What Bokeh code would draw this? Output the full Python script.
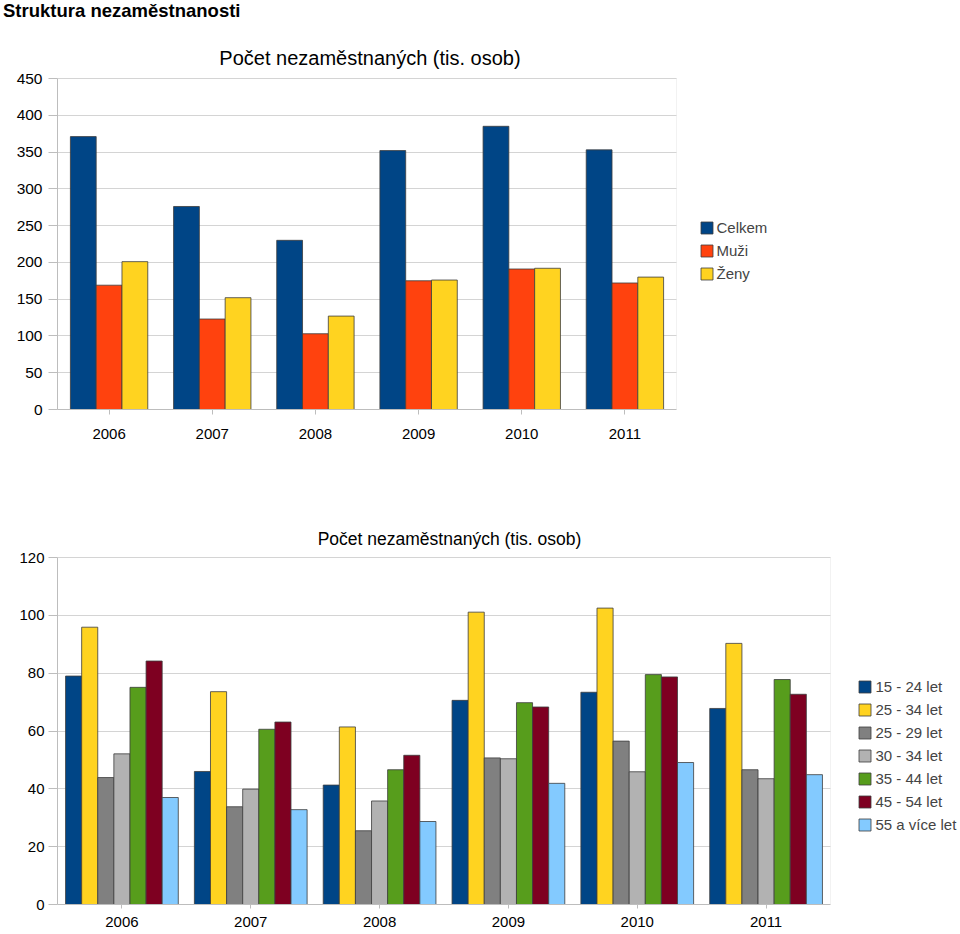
from bokeh.plotting import figure
from bokeh.layouts import column
from bokeh.models import (Range1d, FixedTicker, Div, Label, BoxAnnotation)
from bokeh.embed import file_html
from bokeh.resources import INLINE

# ---------------- data ----------------
years = ["2006", "2007", "2008", "2009", "2010", "2011"]

celkem = [371, 276, 230, 352, 385, 353]
muzi = [169, 123, 103, 175, 191, 172]
zeny = [201, 152, 127, 176, 192, 180]
top_series = ["Celkem", "Muži", "Ženy"]
top_colors = ["#004586", "#ff420e", "#ffd320"]
top_ticks = [0, 50, 100, 150, 200, 250, 300, 350, 400, 450]

age_15_24 = [79.0, 46.0, 41.3, 70.6, 73.4, 67.8]
age_25_34 = [95.9, 73.6, 61.4, 101.1, 102.5, 90.3]
age_25_29 = [43.9, 33.8, 25.5, 50.7, 56.5, 46.6]
age_30_34 = [52.1, 39.9, 35.8, 50.4, 45.9, 43.5]
age_35_44 = [75.1, 60.6, 46.6, 69.8, 79.5, 77.8]
age_45_54 = [84.2, 63.1, 51.6, 68.3, 78.7, 72.7]
age_55_up = [37.0, 32.8, 28.7, 41.9, 49.1, 44.9]
bottom_series = ["15 - 24 let", "25 - 34 let", "25 - 29 let", "30 - 34 let",
                 "35 - 44 let", "45 - 54 let", "55 a více let"]
bottom_colors = ["#004586", "#ffd320", "#808080", "#b2b2b2",
                 "#579d1c", "#7e0021", "#83caff"]
bottom_ticks = [0, 20, 40, 60, 80, 100, 120]

heading = "Struktura nezaměstnanosti"
chart_title = "Počet nezaměstnaných (tis. osob)"

FONT = "Liberation Sans"
GRID = "#d4d4d4"
AXIS = "#bdbdbd"
OUTLINE = "#3c3c3c"
WIDTH = 960
LEFT = 57


def make_chart(height, frame_top, plot_top, plot_right, plot_bottom, ticks):
    """plot area = LEFT..plot_right x plot_top..plot_bottom (figure pixels)"""
    ymax = ticks[-1]
    ncat = len(years)
    frame_w = WIDTH - LEFT
    plot_w = plot_right - LEFT
    frame_h = plot_bottom - frame_top
    plot_h = plot_bottom - plot_top
    x_end = ncat * frame_w / plot_w
    y_end = ymax * frame_h / plot_h
    p = figure(width=WIDTH, height=height, x_range=Range1d(0, x_end),
               y_range=Range1d(0, y_end), output_backend="svg",
               toolbar_location=None, tools="",
               min_border_left=LEFT, min_border_right=0,
               min_border_top=frame_top, min_border_bottom=height - plot_bottom)
    p.outline_line_color = None
    p.xgrid.grid_line_color = None
    p.ygrid.grid_line_color = GRID
    p.yaxis.ticker = FixedTicker(ticks=ticks)
    p.yaxis.bounds = (0, ymax)
    centers = [i + 0.5 for i in range(ncat)]
    p.xaxis.ticker = FixedTicker(ticks=centers)
    p.xaxis.major_label_overrides = {c: y for c, y in zip(centers, years)}
    p.xaxis.bounds = (0, ncat)
    for ax in (p.xaxis[0], p.yaxis[0]):
        ax.axis_line_color = AXIS
        ax.major_tick_line_color = AXIS
        ax.minor_tick_line_color = None
        ax.major_tick_in = 0
        ax.major_label_text_font = FONT
        ax.major_label_text_color = "#000000"
    p.yaxis.major_tick_out = 9
    p.xaxis.major_tick_out = 5
    # hide grid lines to the right of the plot area, then draw the plot outline
    p.add_layout(BoxAnnotation(left=ncat, fill_color="white", fill_alpha=1,
                               line_color=None, level="underlay"))
    p.add_layout(BoxAnnotation(left=0, right=ncat, bottom=0, top=ymax,
                               fill_alpha=0, line_color=GRID, line_width=1,
                               level="underlay"))
    geom = dict(px_x=plot_w / ncat, px_y=plot_h / ymax, bottom=plot_bottom)
    return p, geom


def add_text(p, geom, text, sx, sy, size):
    x = (sx - LEFT) / geom["px_x"]
    y = (geom["bottom"] - sy) / geom["px_y"]
    p.add_layout(Label(x=x, y=y, text=text, text_font=FONT, text_font_size=size,
                       text_align="center", text_baseline="alphabetic",
                       text_color="#000000"))


def style_legend(lg, x, y, standoff):
    lg.location = (x, y)
    lg.glyph_width = 15
    lg.glyph_height = 15
    lg.label_height = 20
    lg.spacing = 3
    lg.padding = 0
    lg.margin = 0
    lg.label_standoff = standoff
    lg.label_text_font = FONT
    lg.label_text_font_size = "15px"
    lg.border_line_color = None
    lg.background_fill_alpha = 0


# ---------------- heading ----------------
head = Div(text=('<div style="font-family: \'Liberation Sans\'; font-size: 18.5px; '
                 'font-weight: bold; line-height: 21px; padding-left: 3px; '
                 'white-space: nowrap; color: #000;">' + heading + '</div>'),
           width=WIDTH, height=20, margin=0)

# ---------------- top chart (figure starts at page y 20) ----------------
p1, g1 = make_chart(450, 0, 58, 676, 389, top_ticks)
p1.yaxis.major_label_text_font_size = "15.5px"
p1.yaxis.major_label_standoff = 6
p1.xaxis.major_label_text_font_size = "15px"
p1.xaxis.major_label_standoff = 14

n1 = len(top_series)
w1 = 0.25
for j, (name, vals, col) in enumerate(zip(top_series, [celkem, muzi, zeny], top_colors)):
    off = (j - (n1 - 1) / 2) * w1
    xs = [i + 0.5 + off for i in range(len(years))]
    p1.vbar(x=xs, top=vals, width=w1, fill_color=col,
            line_color=OUTLINE, line_width=0.8, legend_label=name)

style_legend(p1.legend[0], 698.5 - LEFT, 389 - 263, 3)
add_text(p1, g1, chart_title, 369.5, 37, "20px")

# ---------------- bottom chart (figure starts at page y 470) ----------------
p2, g2 = make_chart(464, 0, 87, 830, 434, bottom_ticks)
p2.yaxis.major_label_text_font_size = "15px"
p2.yaxis.major_label_standoff = 4
p2.xaxis.major_label_text_font_size = "15px"
p2.xaxis.major_tick_out = 4
p2.xaxis.major_label_standoff = 8

bottom_vals = [age_15_24, age_25_34, age_25_29, age_30_34, age_35_44, age_45_54, age_55_up]
n2 = len(bottom_series)
w2 = 0.125
for j, (name, vals, col) in enumerate(zip(bottom_series, bottom_vals, bottom_colors)):
    off = (j - (n2 - 1) / 2) * w2
    xs = [i + 0.5 + off for i in range(len(years))]
    p2.vbar(x=xs, top=vals, width=w2, fill_color=col,
            line_color=OUTLINE, line_width=0.8, legend_label=name)

style_legend(p2.legend[0], 856.5 - LEFT, 434 - 364, 4)
add_text(p2, g2, chart_title, 449, 68.3, "17.5px")

layout = column(head, p1, p2, spacing=0)
open("out.html", "w").write(file_html(layout, INLINE))
